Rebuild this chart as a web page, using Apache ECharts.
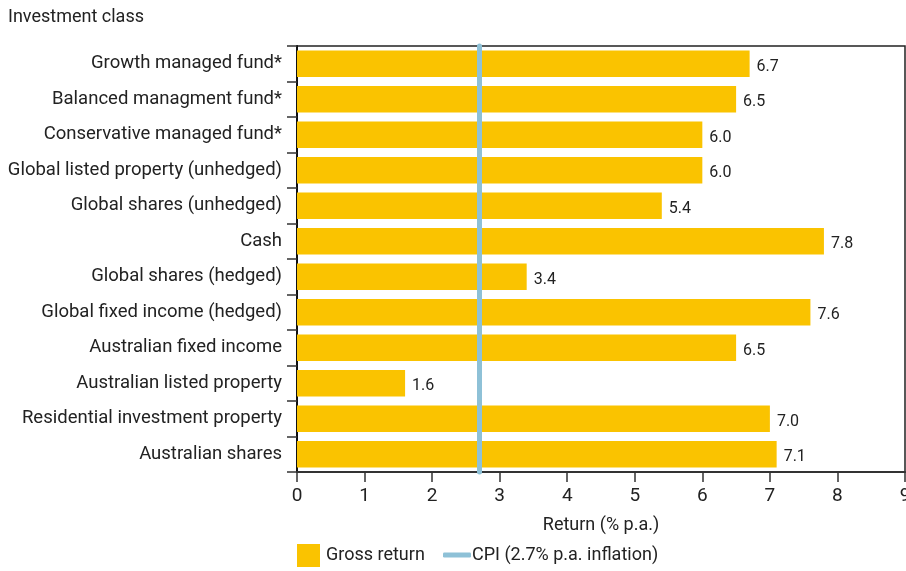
<!DOCTYPE html>
<html>
<head>
<meta charset="utf-8">
<script src="https://cdn.jsdelivr.net/npm/echarts@6/dist/echarts.min.js"></script>
<style>
  html, body { margin: 0; padding: 0; background: #fff; }
  #chart { width: 906px; height: 571px; }
</style>
</head>
<body>
<div id="chart"></div>
<script>
// Investment classes, listed top to bottom
const categories = [
  'Growth managed fund*',
  'Balanced managment fund*',
  'Conservative managed fund*',
  'Global listed property (unhedged)',
  'Global shares (unhedged)',
  'Cash',
  'Global shares (hedged)',
  'Global fixed income (hedged)',
  'Australian fixed income',
  'Australian listed property',
  'Residential investment property',
  'Australian shares'
];
// Gross return, % p.a.
const grossReturn = [6.7, 6.5, 6.0, 6.0, 5.4, 7.8, 3.4, 7.6, 6.5, 1.6, 7.0, 7.1];
// Inflation reference line
const cpi = 2.7;
const xTicks = { min: 0, max: 9, interval: 1 };

const FONT = 'Roboto, "Liberation Sans", Arial, sans-serif';
const TEXT = '#222';
const BAR = '#FAC300';
const CPI_COLOR = '#8EC1D7';
const cpiName = 'CPI (' + cpi + '% p.a. inflation)';

const chart = echarts.init(document.getElementById('chart'), null, { renderer: 'canvas' });
chart.setOption({
  animation: false,
  textStyle: { fontFamily: FONT },
  title: {
    text: 'Investment class',
    left: 8, top: 8, padding: 0,
    textStyle: { fontFamily: FONT, fontSize: 18, fontWeight: 'normal', color: TEXT }
  },
  grid: {
    left: 297, right: 1, top: 46, bottom: 99,
    show: true, borderColor: '#222', borderWidth: 1.5,
    containLabel: false,
    outerBoundsMode: 'none'
  },
  legend: [
    {
      left: 297, top: 544, padding: 0,
      itemWidth: 23, itemHeight: 23, itemGap: 20,
      textStyle: { fontFamily: FONT, fontSize: 18, color: TEXT, padding: [4, 0, 0, 1] },
      data: [{ name: 'Gross return', icon: 'rect' }]
    },
    {
      left: 443, top: 546, padding: 0,
      itemWidth: 28, itemHeight: 5,
      textStyle: { fontFamily: FONT, fontSize: 18, color: TEXT, padding: [4, 0, 0, -4] },
      data: [{ name: cpiName, icon: 'roundRect', itemStyle: { color: CPI_COLOR } }]
    }
  ],
  xAxis: {
    type: 'value',
    min: xTicks.min, max: xTicks.max, interval: xTicks.interval,
    name: 'Return (% p.a.)',
    nameLocation: 'middle',
    nameGap: 44,
    nameTextStyle: { fontFamily: FONT, fontSize: 18, color: TEXT },
    splitLine: { show: false },
    axisLine: { show: true, lineStyle: { color: '#333', width: 2 } },
    axisTick: { show: true, length: 10, lineStyle: { color: '#333', width: 1.5 } },
    axisLabel: { fontFamily: FONT, fontSize: 19, color: TEXT, margin: 15 }
  },
  yAxis: {
    type: 'category',
    inverse: true,
    data: categories,
    axisLine: { show: true, lineStyle: { color: '#111', width: 2 } },
    axisTick: { show: true, length: 10, lineStyle: { color: '#333', width: 1.5 } },
    axisLabel: { fontFamily: FONT, fontSize: 18.5, color: TEXT, margin: 15, padding: [4, 0, 0, 0] }
  },
  series: [
    {
      name: 'Gross return',
      type: 'bar',
      data: grossReturn,
      barCategoryGap: '25%',
      itemStyle: { color: BAR },
      label: {
        show: true,
        position: 'right',
        distance: 7,
        offset: [0, 3],
        fontFamily: FONT,
        fontSize: 16,
        color: TEXT,
        formatter: p => p.value.toFixed(1)
      },
      markLine: {
        silent: true,
        symbol: 'none',
        label: { show: false },
        lineStyle: { color: CPI_COLOR, width: 5, type: 'solid', cap: 'round' },
        data: [{ xAxis: cpi }]
      },
      z: 2
    },
    {
      name: cpiName,
      type: 'line',
      data: [],
      color: CPI_COLOR,
      lineStyle: { color: CPI_COLOR, width: 5 }
    }
  ]
});
</script>
</body>
</html>
